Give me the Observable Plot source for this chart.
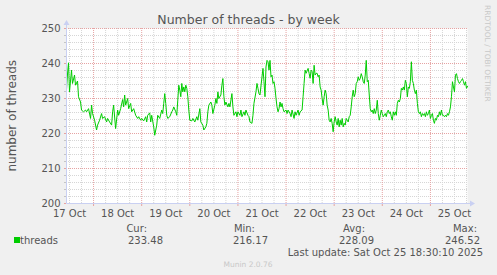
<!DOCTYPE html>
<html><head><meta charset="utf-8">
<script src="https://cdn.jsdelivr.net/npm/d3@7"></script>
<script src="https://cdn.jsdelivr.net/npm/@observablehq/plot@0.6"></script>
<style>
html,body{margin:0;padding:0;background:#F0F0F0;}
#chart{position:relative;width:497px;height:275px;overflow:hidden;}
</style></head><body><div id="chart"></div>
<script>
const title = "Number of threads - by week";
const yLabel = "number of threads";
const startTime = "2025-10-17T10:30:00Z";
const endTime = "2025-10-25T18:30:00Z";
const stepMinutes = 30;
const halfHours = [0,1,2,3,5,6,8,9,11,12,14,15,17,19,20,22,24,25,26,28,30,31,33,35,36,38,40,41,43,45,46,47,49,51,52,54,56,57,58,59,61,62,64,65,67,69,71,72,74,75,77,79,80,81,83,84,85,87,88,90,91,93,95,96,97,98,99,
100,101,103,105,106,107,109,110,111,112,113,114,115,116,117,118,119,120,121,122,123,125,126,128,130,131,133,134,136,137,139,140,141,142,144,145,146,148,149,150,151,152,154,155,156,157,158,159,161,162,163,165,166,167,169,170,171,173,174,175,177,178,179,181,182,183,185,186,187,189,190,191,192,193,195,196,197,198,199,
200,201,202,203,204,205,206,207,208,209,210,211,212,213,214,215,216,217,219,220,221,223,224,225,227,228,229,231,232,233,235,236,237,238,239,241,242,243,244,245,246,247,248,249,250,251,252,253,254,255,256,257,258,259,260,261,262,263,264,265,266,267,268,269,270,271,272,273,274,275,276,277,278,279,280,281,282,283,284,285,286,287,288,289,290,291,292,293,294,295,296,297,298,299,
300,301,302,303,304,305,306,307,308,309,310,311,312,313,314,315,316,317,318,319,320,321,322,323,324,325,326,327,328,329,330,331,332,333,334,335,336,337,338,339,340,341,342,343,344,345,346,347,348,349,350,351,352,353,354,355,356,357,358,359,360,361,362,363,364,365,366,367,368,369,370,371,372,373,374,375,376,377,378,379,380,381,382,383,384,385,386,387,388,389,390,391,392,393,394,395,396,397,398,399,400];
const threads = [232.5,237.0,240.2,231.9,238.1,234.3,236.7,233.8,235.0,230.5,229.0,226.7,226.2,226.7,226.2,227.1,224.3,228.1,225.7,223.8,221.0,222.4,223.8,225.7,224.3,224.8,223.3,224.3,223.3,222.4,226.2,228.1,221.4,226.7,225.2,227.1,229.7,227.6,231.0,228.1,230.0,227.1,228.6,226.2,227.1,225.2,224.3,224.8,223.8,224.3,223.6,224.8,223.3,225.2,225.9,223.3,225.2,221.9,219.5,222.4,225.2,224.3,226.7,225.7,228.6,231.4,228.6,
225.2,224.3,224.8,226.2,226.7,227.6,226.2,225.2,229.5,233.8,232.4,230.5,234.3,231.9,233.3,231.9,233.8,232.9,230.5,226.7,223.8,223.6,224.3,223.3,224.8,223.8,227.1,223.3,222.4,221.0,221.9,222.9,226.2,228.1,229.0,228.1,225.7,228.1,230.0,228.6,231.9,230.0,231.0,233.8,235.7,230.5,228.1,229.0,227.6,228.6,227.6,231.4,227.6,225.2,226.2,224.8,226.2,225.2,226.7,224.8,226.2,225.2,226.7,225.2,224.8,223.3,222.9,225.2,228.6,231.9,234.3,232.9,231.4,231.0,236.2,238.6,234.8,230.5,239.0,
240.9,240.5,238.1,240.9,236.2,236.7,234.3,234.8,232.9,230.0,227.6,226.2,227.1,229.0,227.6,228.6,227.1,226.2,226.7,225.7,226.7,225.7,224.8,226.7,224.3,226.2,225.2,226.7,225.2,226.2,226.7,230.5,234.3,238.1,237.2,238.6,237.2,235.8,238.1,237.7,234.3,239.5,236.7,237.2,237.2,236.2,236.7,233.3,232.4,230.0,228.1,230.5,232.4,231.4,228.1,226.7,223.8,223.3,224.3,222.9,220.5,223.3,224.8,223.3,222.4,224.3,221.9,223.8,222.4,224.3,221.9,222.9,222.4,224.3,223.8,223.3,224.8,225.2,227.6,230.5,232.4,230.5,231.4,234.3,234.8,236.2,235.2,235.7,237.1,236.2,234.8,234.3,236.7,240.9,
234.8,235.2,231.0,227.1,226.2,226.7,225.7,227.1,225.7,226.7,229.5,225.7,223.8,225.2,226.7,225.7,224.8,225.2,225.7,224.8,226.2,226.7,225.7,226.2,224.8,223.8,226.2,225.2,226.2,225.2,228.6,229.5,229.0,230.0,232.9,232.4,233.3,232.4,235.2,234.3,230.5,233.3,232.9,234.8,240.5,235.2,234.3,232.4,231.4,232.4,228.6,226.2,225.7,226.2,224.8,225.7,225.2,225.7,224.8,226.2,225.2,225.7,226.7,224.3,225.2,225.7,223.8,222.9,224.3,223.8,225.2,224.8,226.2,225.2,226.7,225.2,225.2,224.8,225.2,224.8,225.7,225.2,226.2,227.6,230.5,234.8,233.3,231.9,236.7,237.1,235.7,234.8,234.3,234.8,235.2,235.7,234.8,233.8,234.8,232.9,233.5];
const yTicks = [200, 210, 220, 230, 240, 250];
const dayLabels = ["17 Oct","18 Oct","19 Oct","20 Oct","21 Oct","22 Oct","23 Oct","24 Oct","25 Oct"];
const legendName = "threads";
const statLabels = ["Cur:", "Min:", "Avg:", "Max:"];
const statValues = ["233.48", "216.17", "228.09", "246.52"];
const lastUpdate = "Last update: Sat Oct 25 18:30:10 2025";
const footer = "Munin 2.0.76";
const watermark = "RRDTOOL / TOBI OETIKER";

const start = new Date(startTime), end = new Date(endTime);
const data = halfHours.map((n, i) => ({time: new Date(start.getTime() + n * stepMinutes * 60000), value: threads[i]}));
const HOUR = 3600000;
const noons = dayLabels.map((_, i) => new Date(Date.UTC(2025, 9, 17 + i, 12)));
const midnights = d3.utcDay.range(new Date(start.getTime() + 1), end);
const sixHours = d3.utcHour.every(6).range(new Date(start.getTime() + 1), end).filter(d => d.getUTCHours() !== 0);
const minorY = d3.range(202, 250, 2).filter(v => v % 10 !== 0);
const majorY = yTicks.filter(v => v > 200);

const gridMinor = "#d6d6d6", gridMajor = "#e6a3a3", axisColor = "#c9d0f2", textColor = "#555";
const font = "'DejaVu Sans', sans-serif";

const plot = Plot.plot({
  width: 497, height: 275,
  marginLeft: 66, marginRight: 30, marginTop: 28, marginBottom: 72,
  style: {background: "#F0F0F0", fontFamily: font, fontSize: "10px", color: textColor, overflow: "visible"},
  x: {type: "utc", domain: [start, end], label: null},
  y: {domain: [200, 250], label: null},
  marks: [
    Plot.frame({fill: "white", stroke: null}),
    Plot.ruleY(minorY, {stroke: gridMinor, strokeDasharray: "1,1"}),
    Plot.ruleX(sixHours, {stroke: gridMinor, strokeDasharray: "1,1"}),
    Plot.ruleY(majorY, {stroke: gridMajor, strokeDasharray: "1,1"}),
    Plot.ruleX(midnights, {stroke: gridMajor, strokeDasharray: "1,1"}),
    Plot.line(data, {x: "time", y: "value", stroke: "#00CC00", strokeWidth: 1}),
    Plot.axisY(minorY, {tickSize: 2, tickFormat: () => "", stroke: "#c4c4c4", label: null}),
    Plot.axisY(yTicks, {tickSize: 2, tickPadding: 4, stroke: gridMajor, fill: textColor, label: null}),
    Plot.axisX(midnights, {tickSize: 3, tickFormat: () => "", stroke: gridMajor, label: null}),
    Plot.axisX(noons, {tickSize: 0, tickPadding: 6, tickFormat: (d, i) => dayLabels[i], fill: textColor, label: null})
  ]
});

document.getElementById("chart").appendChild(plot);
const svg = d3.select(plot);
const xs = plot.scale("x"), ys = plot.scale("y");
const x0 = Math.round(xs.apply(start)) + 0.5, x1 = xs.apply(end);
const yb = Math.round(ys.apply(200)) + 0.5, yt = ys.apply(250);

// axes with arrows
const ax = svg.append("g").attr("fill", axisColor).attr("stroke", axisColor);
ax.append("line").attr("x1", x0).attr("x2", x0).attr("y1", yb).attr("y2", yt - 5);
ax.append("line").attr("x1", x0).attr("x2", x1 + 5).attr("y1", yb).attr("y2", yb);
ax.append("path").attr("stroke", "none").attr("d", `M${x0 - 3},${yt - 3}L${x0},${yt - 8}L${x0 + 3},${yt - 3}Z`);
ax.append("path").attr("stroke", "none").attr("d", `M${x1 + 3},${yb - 3}L${x1 + 8},${yb}L${x1 + 3},${yb + 3}Z`);

function txt(x, y, s, opts = {}) {
  const t = svg.append("text").attr("x", x).attr("y", y).text(s)
    .attr("font-family", font).attr("font-size", opts.size || 10)
    .attr("fill", opts.color || textColor).attr("text-anchor", opts.anchor || "start");
  if (opts.transform) t.attr("transform", opts.transform);
  return t;
}
txt(248.5, 24, title, {size: 12.5, anchor: "middle"});
txt(0, 0, yLabel, {size: 12, anchor: "middle", transform: `translate(16,${(yb + yt) / 2}) rotate(-90)`});
txt(0, 0, watermark, {size: 7.5, color: "#c8c8c8", transform: `translate(484.5,5) rotate(90)`});

svg.append("rect").attr("x", 14).attr("y", 237).attr("width", 6).attr("height", 6).attr("fill", "#00CC00");
txt(20, 243.5, legendName);
const headRight = [147, 255, 365, 477];
const valRight = [163, 268, 374, 480];
statLabels.forEach((s, i) => txt(headRight[i], 232, s, {anchor: "end"}));
statValues.forEach((s, i) => txt(valRight[i], 243.5, s, {anchor: "end"}));
txt(483, 255.5, lastUpdate, {anchor: "end"});
txt(248, 267, footer, {size: 7.5, color: "#c8c8c8", anchor: "middle"});
</script></body></html>
